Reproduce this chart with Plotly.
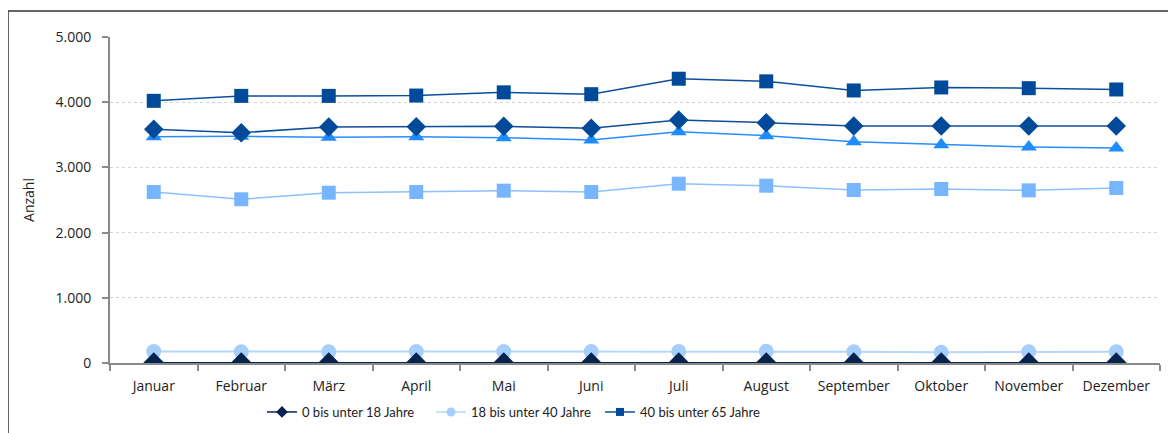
import plotly.graph_objects as go

months = ["Januar", "Februar", "März", "April", "Mai", "Juni", "Juli",
          "August", "September", "Oktober", "November", "Dezember"]

age_0_18 = [5, 5, 5, 5, 5, 5, 5, 5, 5, 5, 5, 5]
age_18_40 = [175, 172, 173, 176, 176, 175, 178, 180, 172, 165, 172, 173]
age_40_65 = [4021, 4097, 4097, 4102, 4151, 4123, 4360, 4320, 4180, 4226, 4215, 4195]
series_d = [3584, 3532, 3620, 3624, 3630, 3600, 3727, 3686, 3635, 3635, 3635, 3635]
series_t = [3471, 3477, 3462, 3471, 3456, 3420, 3548, 3486, 3394, 3348, 3313, 3298]
series_ls = [2623, 2511, 2612, 2623, 2643, 2623, 2750, 2719, 2653, 2669, 2648, 2684]

legend_names = ["0 bis unter 18 Jahre", "18 bis unter 40 Jahre", "40 bis unter 65 Jahre"]

# the page has an 8px body margin: figure coords = page coords - 8
OFF = 8
W, H = 1176, 433
L, R, T, B = 110 - OFF, W - (1160 - OFF), 37 - OFF, H - (363 - OFF)
pw, ph = W - L - R, H - T - B

def px(x):  # page x -> paper
    return (x - OFF - L) / pw

def py(y):  # page y -> paper
    return (H - B - (y - OFF)) / ph

fig = go.Figure()

fig.add_trace(go.Scatter(x=months, y=series_ls, mode="lines+markers", name="Reihe 6",
                         showlegend=False,
                         line=dict(color="#8cc0ff", width=1.5),
                         marker=dict(symbol="square", size=14, color="#77b5ff")))
fig.add_trace(go.Scatter(x=months, y=series_t, mode="lines+markers", name="Reihe 5",
                         showlegend=False,
                         line=dict(color="#2a8cff", width=1.5),
                         marker=dict(symbol="triangle-up", size=14, color="#1e8cff")))
fig.add_trace(go.Scatter(x=months, y=series_d, mode="lines+markers", name="Reihe 4",
                         showlegend=False,
                         line=dict(color="#0d4d99", width=1.5),
                         marker=dict(symbol="diamond", size=15, color="#004a99")))
fig.add_trace(go.Scatter(x=months, y=age_40_65, mode="lines+markers", name=legend_names[2],
                         showlegend=False, legendgroup="c",
                         line=dict(color="#0b4e9e", width=1.5),
                         marker=dict(symbol="square", size=14, color="#004a99")))
fig.add_trace(go.Scatter(x=months, y=age_18_40, mode="lines+markers", name=legend_names[1],
                         showlegend=False, legendgroup="b",
                         line=dict(color="#b5d7fb", width=2),
                         marker=dict(symbol="circle", size=15, color="#a6cefa")))
fig.add_trace(go.Scatter(x=months, y=age_0_18, mode="lines+markers", name=legend_names[0],
                         showlegend=False, legendgroup="a",
                         line=dict(color="#0a2450", width=1.5),
                         marker=dict(symbol="diamond", size=16, color="#06234d")))

leg_styles = [("a", "#0a2450", "#06234d", "diamond", 9),
              ("b", "#b5d7fb", "#a6cefa", "circle", 9),
              ("c", "#0b4e9e", "#004a99", "square", 8)]
for name, (grp, lc, mc, sym, sz) in zip(legend_names, leg_styles):
    fig.add_trace(go.Scatter(x=[None], y=[None], mode="lines+markers", name=name,
                             legendgroup=grp, showlegend=True,
                             line=dict(color=lc, width=1.5),
                             marker=dict(symbol=sym, size=sz, color=mc)))

font = "Open Sans"
legfont = "Lato"
fig.update_layout(
    width=W, height=H,
    margin=dict(l=L, r=R, t=T, b=B, autoexpand=False),
    paper_bgcolor="white", plot_bgcolor="white",
    separators=",.",
    font=dict(family=font, size=14, color="#222222"),
    showlegend=True,
    legend=dict(orientation="h",
                x=px(262), xanchor="left", y=py(412), yanchor="middle",
                entrywidth=124, itemsizing="trace",
                font=dict(family=legfont, size=13, color="#222222"),
                bgcolor="rgba(0,0,0,0)"),
    xaxis=dict(type="category", showgrid=False, showline=True, automargin=False,
               linecolor="#8a8a8a", linewidth=2,
               ticks="outside", tickson="boundaries", ticklen=6, tickwidth=1.5,
               tickcolor="#8a8a8a", ticklabelstandoff=9,
               tickfont=dict(family=font, size=14, color="#222222"),
               range=[-0.5, 11.5], zeroline=False),
    yaxis=dict(range=[0, 5000], dtick=1000, tickformat=",d", automargin=False,
               showgrid=True, gridcolor="#d4d4d4", griddash="dot", gridwidth=1,
               showline=True, linecolor="#8a8a8a", linewidth=2,
               ticks="outside", ticklen=6, tickwidth=1.5, tickcolor="#8a8a8a",
               ticklabelstandoff=8, zeroline=False,
               tickfont=dict(family=font, size=14, color="#222222"),
               title=dict(text="Anzahl", standoff=18,
                          font=dict(family=font, size=14, color="#222222"))),
    shapes=[dict(type="rect", xref="paper", yref="paper",
                 x0=px(8), x1=px(1200), y0=py(460), y1=py(11),
                 line=dict(color="#333333", width=1.5), layer="below")],
)

fig.write_html("out.html")
